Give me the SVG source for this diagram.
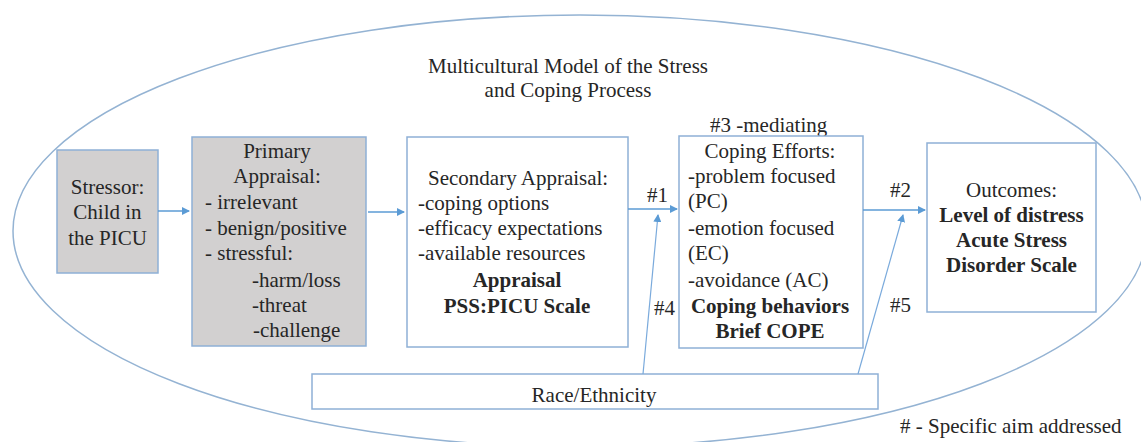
<svg xmlns="http://www.w3.org/2000/svg" width="1141" height="442" viewBox="0 0 1141 442">
<style>
text{font-family:"Liberation Serif","Times New Roman",serif;font-size:21px;fill:#262626}
.b{font-weight:bold}
.c{text-anchor:middle}
.box{fill:#ffffff;stroke:#8eb0d6;stroke-width:1.5}
.gray{fill:#d2d0d0;stroke:#8eb0d6;stroke-width:1.5}
.con{stroke:#5b9bd5;stroke-width:1.5;fill:none}
.thin{stroke:#7aaadc;stroke-width:1.2;fill:none}
</style>
<defs>
<marker id="ah" markerWidth="8" markerHeight="8" refX="7" refY="4" orient="auto" markerUnits="userSpaceOnUse">
<path d="M0,0 L8,4 L0,8 Z" fill="#5b9bd5"/>
</marker>
</defs>
<ellipse cx="580" cy="231" rx="567" ry="216" fill="none" stroke="#94b3d3" stroke-width="1.5"/>
<g id="title">
<text class="c" x="568" y="73">Multicultural Model of the Stress</text>
<text class="c" x="568" y="97">and Coping Process</text>
</g>
<g id="stressor">
<rect class="gray" x="57" y="150" width="101" height="123"/>
<text class="c" x="107.5" y="194">Stressor:</text>
<text class="c" x="107.5" y="219">Child in</text>
<text class="c" x="107.5" y="245">the PICU</text>
</g>
<g id="primary">
<rect class="gray" x="192" y="137" width="174" height="209"/>
<text class="c" x="277" y="158">Primary</text>
<text class="c" x="277" y="183">Appraisal:</text>
<text x="205" y="209">- irrelevant</text>
<text x="205" y="235">- benign/positive</text>
<text x="205" y="260">- stressful:</text>
<text x="252" y="287">-harm/loss</text>
<text x="252" y="312">-threat</text>
<text x="253" y="337">-challenge</text>
</g>
<g id="secondary">
<rect class="box" x="407" y="137" width="221" height="210"/>
<text x="428" y="185">Secondary Appraisal:</text>
<text x="418" y="210">-coping options</text>
<text x="418" y="235">-efficacy expectations</text>
<text x="418" y="260">-available resources</text>
<text class="c b" x="517" y="287">Appraisal</text>
<text class="c b" x="517" y="313">PSS:PICU Scale</text>
</g>
<g id="coping">
<text x="710" y="132">#3 -mediating</text>
<rect class="box" x="679" y="136" width="184" height="212"/>
<text class="c" x="770" y="158">Coping Efforts:</text>
<text x="688" y="183">-problem focused</text>
<text x="688" y="208">(PC)</text>
<text x="688" y="235">-emotion focused</text>
<text x="688" y="260">(EC)</text>
<text x="688" y="287">-avoidance (AC)</text>
<text class="c b" x="770" y="313">Coping behaviors</text>
<text class="c b" x="770" y="338">Brief COPE</text>
</g>
<g id="outcomes">
<rect class="box" x="927" y="143" width="169" height="169"/>
<text class="c" x="1011.5" y="197">Outcomes:</text>
<text class="c b" x="1011.5" y="222">Level of distress</text>
<text class="c b" x="1011.5" y="247">Acute Stress</text>
<text class="c b" x="1011.5" y="272">Disorder Scale</text>
</g>
<g id="race">
<rect class="box" x="312" y="374" width="566" height="35"/>
<text class="c" x="594" y="402">Race/Ethnicity</text>
</g>
<g id="connectors">
<line class="con" x1="158" y1="211" x2="189" y2="211" marker-end="url(#ah)"/>
<line class="con" x1="368" y1="212" x2="404" y2="212" marker-end="url(#ah)"/>
<line class="con" x1="628" y1="209" x2="677" y2="209" marker-end="url(#ah)"/>
<line class="con" x1="863" y1="210" x2="925" y2="210" marker-end="url(#ah)"/>
<line class="thin" x1="643" y1="374" x2="658" y2="215" marker-end="url(#ah)"/>
<line class="thin" x1="858" y1="374" x2="903" y2="215" marker-end="url(#ah)"/>
<text x="647" y="202">#1</text>
<text x="890" y="197">#2</text>
<text x="654" y="315">#4</text>
<text x="890" y="312">#5</text>
</g>
<g id="legend">
<text x="900" y="433"># - Specific aim addressed</text>
</g>
</svg>
